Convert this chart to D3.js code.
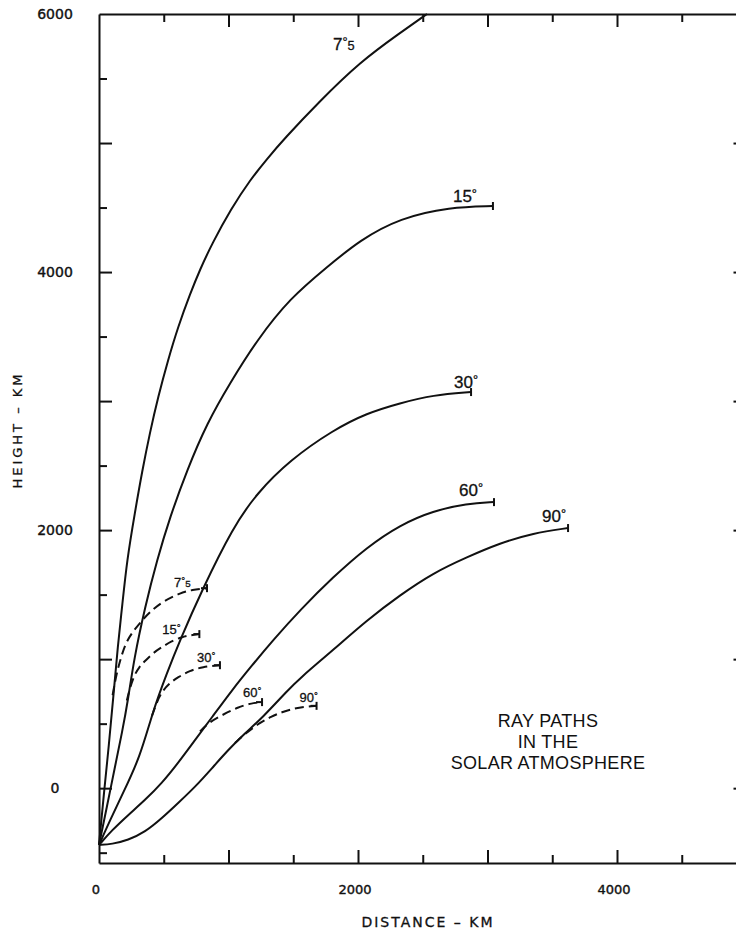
<!DOCTYPE html>
<html>
<head>
<meta charset="utf-8">
<script src="https://cdn.jsdelivr.net/npm/d3@7"></script>
<style>
  body { margin: 0; background: #fff; }
  text { fill: #111; }
</style>
</head>
<body>
<script>
// Ray paths in the solar atmosphere

// ray data, [distance km, height km]
const ray75 = [[0,-440],[40,-20],[75,320],[110,700],[145,1100],[180,1420],[216,1767],[278,2140],[332,2450],[394,2760],[456,3031],[533,3318],[610,3574],[703,3830],[780,4020],[873,4220],[1020,4490],[1166,4713],[1300,4880],[1421,5023],[1700,5320],[2015,5628],[2324,5853],[2533,6000]];
const ray15 = [[0,-440],[60,-150],[120,150],[180,440],[224,682],[270,1000],[355,1403],[448,1767],[548,2101],[680,2465],[834,2829],[1012,3140],[1220,3473],[1475,3798],[1761,4039],[2015,4248],[2324,4419],[2710,4504],[3042,4512]];
const ray30 = [[0,-440],[85,-248],[185,-39],[317,240],[417,600],[520,880],[625,1147],[795,1535],[1035,2023],[1220,2287],[1475,2543],[1807,2775],[2069,2907],[2324,2984],[2579,3047],[2873,3070]];
const ray60 = [[0,-440],[100,-326],[224,-209],[355,-93],[486,39],[610,194],[741,372],[873,550],[1027,760],[1180,950],[1344,1147],[1552,1380],[1807,1636],[2069,1868],[2324,2040],[2579,2150],[2842,2205],[3050,2217]];
const ray90 = [[0,-440],[100,-434],[224,-403],[355,-341],[486,-233],[610,-116],[741,8],[873,155],[996,295],[1127,426],[1259,543],[1459,760],[1552,853],[1807,1070],[2069,1302],[2324,1496],[2579,1667],[2842,1791],[3097,1899],[3351,1977],[3622,2016]];

// dashed rays
const dash75 = [[105,720],[130,860],[160,980],[200,1110],[250,1200],[340,1310],[420,1390],[500,1450],[625,1512],[720,1538],[834,1550]];
const dash15 = [[215,680],[240,780],[270,870],[310,940],[360,990],[420,1050],[486,1093],[560,1140],[641,1171],[700,1185],[775,1194]];
const dash30 = [[409,560],[440,650],[480,740],[540,810],[610,860],[700,910],[800,940],[934,953]];
const dash60 = [[780,440],[850,510],[950,566],[1073,628],[1181,659],[1259,667]];
const dash90 = [[1050,350],[1143,434],[1240,505],[1330,555],[1413,590],[1498,615],[1580,630],[1680,638]];

const angles = ["7.5", "15", "30", "60", "90"];
const xTickLabels = [0, 2000, 4000];
const yTickLabels = [0, 2000, 4000, 6000];
const titleLines = ["RAY PATHS", "IN THE", "SOLAR ATMOSPHERE"];

// dimensions
const width = 736;
const height = 933;
const plot = {left: 99, right: 746.5, top: 14, bottom: 863};

const svg = d3.select("body")
  .append("svg")
  .attr("width", width)
  .attr("height", height);

const x = d3.scaleLinear()
  .domain([0, 5000])
  .range([plot.left, plot.right]);

const y = d3.scaleLinear()
  .domain([-580, 6000])
  .range([plot.bottom, plot.top]);

// axes (ticks point inward on all four sides)
function drawAxis(axisFn, scale, translate, majors, minors) {
  const g = svg.append("g").attr("transform", translate);
  g.call(axisFn(scale).tickValues(majors).tickSize(13).tickSizeOuter(0).tickFormat(""));
  g.append("g").call(axisFn(scale).tickValues(minors).tickSize(8).tickFormat(""))
    .select(".domain").remove();
  g.selectAll("path, line").attr("stroke", "#111").attr("stroke-width", 2);
}

const xMajor = d3.range(1000, 5000, 1000);
const xMinor = d3.range(500, 5000, 1000);
const yMajor = d3.range(0, 6000, 1000);
const yMinor = d3.range(-500, 6000, 1000);

drawAxis(d3.axisTop, x, `translate(0,${plot.bottom})`, xMajor, xMinor);
drawAxis(d3.axisBottom, x, `translate(0,${plot.top})`, xMajor, xMinor);
drawAxis(d3.axisRight, y, `translate(${plot.left},0)`, yMajor, yMinor);
drawAxis(d3.axisLeft, y, `translate(${plot.right},0)`, yMajor, yMinor);

// tick labels
svg.selectAll(".xlab")
  .data(xTickLabels)
  .enter()
  .append("text")
  .attr("x", d => x(d) - 3)
  .attr("y", 894)
  .attr("text-anchor", "middle")
  .attr("stroke", "#111")
  .attr("stroke-width", 0.4)
  .style("font", "13px 'DejaVu Sans'")
  .text(d => d);

svg.selectAll(".ylab")
  .data(yTickLabels)
  .enter()
  .append("text")
  .attr("x", 55)
  .attr("y", d => y(d) + 5)
  .attr("text-anchor", "middle")
  .attr("stroke", "#111")
  .attr("stroke-width", 0.4)
  .style("font", "14px 'DejaVu Sans'")
  .text(d => d);

// axis titles
svg.append("text")
  .attr("x", 428)
  .attr("y", 927)
  .attr("text-anchor", "middle")
  .attr("stroke", "#111")
  .attr("stroke-width", 0.3)
  .style("font", "14px 'DejaVu Sans'")
  .style("letter-spacing", "2px")
  .text("DISTANCE \u2013 KM");

svg.append("text")
  .attr("transform", "translate(22,430) rotate(-90)")
  .attr("text-anchor", "middle")
  .attr("stroke", "#111")
  .attr("stroke-width", 0.3)
  .style("font", "13px 'DejaVu Sans'")
  .style("letter-spacing", "3px")
  .text("HEIGHT \u2013 KM");

// chart title
svg.selectAll(".title")
  .data(titleLines)
  .enter()
  .append("text")
  .attr("x", 548)
  .attr("y", (d, i) => 727 + i * 21)
  .attr("text-anchor", "middle")
  .style("font", "18px 'Liberation Sans'")
  .style("letter-spacing", "0.3px")
  .text(d => d);

// curves
const line = d3.line()
  .x(d => x(d[0]))
  .y(d => y(d[1]))
  .curve(d3.curveBasis);

const solids = [ray75, ray15, ray30, ray60, ray90];
const dashes = [dash75, dash15, dash30, dash60, dash90];

// label offsets from the end of each curve, in pixels
const solidOffsets = [[-94, 36], [-40, -4], [-17, -4], [-35, -6], [-26, -6]];
const dashOffsets = [[-33, -1], [-37, 0], [-23, -3], [-19, -5], [-17, -4]];

function drawRays(rays, offsets, dashed, fontSize) {
  rays.forEach((ray, i) => {
    svg.append("path")
      .datum(ray)
      .attr("d", line)
      .attr("fill", "none")
      .attr("stroke", "#111")
      .attr("stroke-width", 2)
      .attr("stroke-dasharray", dashed ? "9,5" : null);

    const end = ray[ray.length - 1];
    const ex = x(end[0]), ey = y(end[1]);

    // end bar, except where the ray runs off the top
    if (end[1] < 6000) {
      svg.append("line")
        .attr("x1", ex).attr("x2", ex)
        .attr("y1", ey - 4).attr("y2", ey + 4)
        .attr("stroke", "#111")
        .attr("stroke-width", 2);
      if (dashed) {
        svg.append("line")
          .attr("x1", ex - 6).attr("x2", ex)
          .attr("y1", ey).attr("y2", ey)
          .attr("stroke", "#111")
          .attr("stroke-width", 2);
      }
    }

    const lab = svg.append("text")
      .attr("x", ex + offsets[i][0])
      .attr("y", ey + offsets[i][1])
      .attr("stroke", "#111")
      .attr("stroke-width", 0.3)
      .style("font", `${fontSize}px 'Liberation Sans'`);

    const parts = angles[i].split(".");
    lab.append("tspan").text(parts[0]);
    lab.append("tspan")
      .attr("dy", -fontSize * 0.25)
      .style("font-size", `${fontSize * 0.75}px`)
      .text("\u00b0");
    if (parts[1]) {
      lab.append("tspan")
        .attr("dy", fontSize * 0.25)
        .style("font-size", `${fontSize * 0.75}px`)
        .text(parts[1]);
    }
  });
}

drawRays(solids, solidOffsets, false, 17);
drawRays(dashes, dashOffsets, true, 13);
</script>
</body>
</html>
